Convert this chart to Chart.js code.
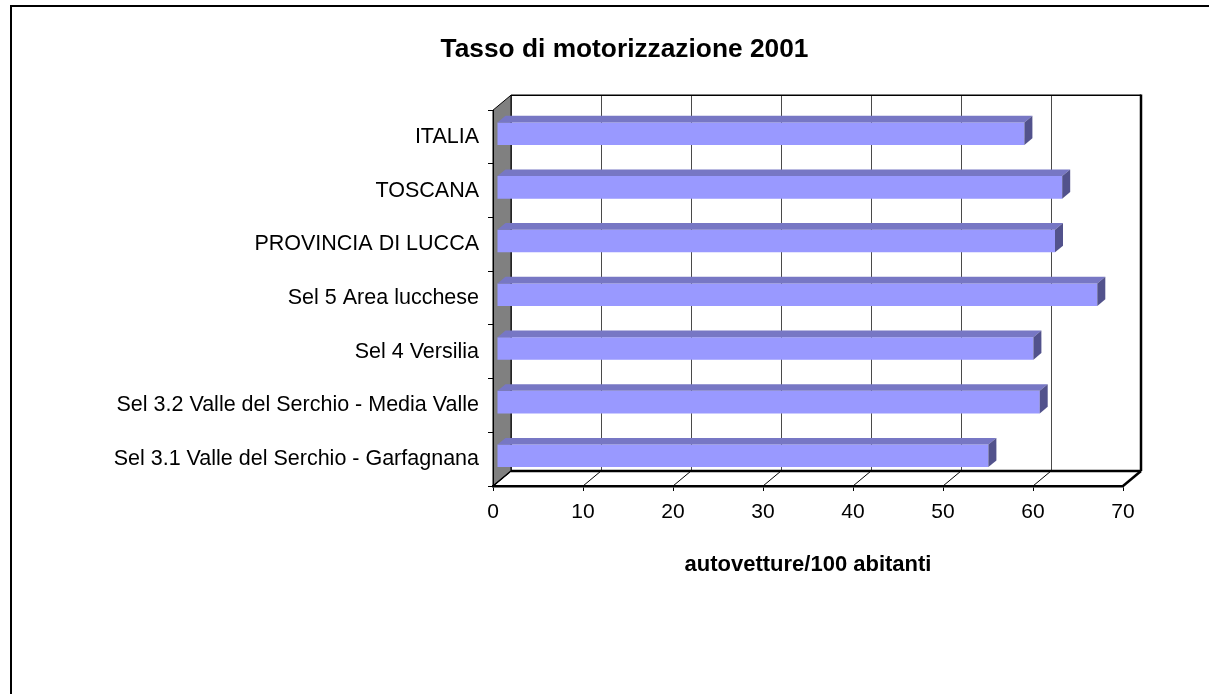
<!DOCTYPE html>
<html><head><meta charset="utf-8">
<script src="https://cdn.jsdelivr.net/npm/chart.js@4.4.0/dist/chart.umd.min.js"></script>
<style>html,body{margin:0;padding:0;background:#fff}#wrap{width:1209px;height:694px;position:relative}</style>
</head><body><div id="wrap"><canvas id="c"></canvas></div>
<script>
const categories = ['ITALIA','TOSCANA','PROVINCIA DI LUCCA','Sel 5 Area lucchese','Sel 4 Versilia','Sel 3.2 Valle del Serchio - Media Valle','Sel 3.1 Valle del Serchio - Garfagnana'];
const values = [58.6, 62.8, 62.0, 66.7, 59.6, 60.3, 54.6];
const xTicks = [0, 10, 20, 30, 40, 50, 60, 70];
const titleText = 'Tasso di motorizzazione 2001';
const xTitle = 'autovetture/100 abitanti';

const DX = 18, DY = -15;          // depth of the 3D floor
const BAR_OFF = 4 / 18, BAR_DEPTH = 8 / 18;
const PAD_LEFT = 40, CHART_LEFT = 493, CHART_RIGHT_GAP = 86, CHART_BOTTOM = 486;

Chart.defaults.font.family = "'Liberation Sans', Arial, sans-serif";

function line(ctx, x1, y1, x2, y2) { ctx.beginPath(); ctx.moveTo(x1, y1); ctx.lineTo(x2, y2); ctx.stroke(); }
function poly(ctx, pts, fill, stroke, lw) {
  ctx.beginPath(); ctx.moveTo(pts[0][0], pts[0][1]);
  for (let i = 1; i < pts.length; i++) ctx.lineTo(pts[i][0], pts[i][1]);
  ctx.closePath();
  if (fill) { ctx.fillStyle = fill; ctx.fill(); }
  if (stroke) { ctx.strokeStyle = stroke; ctx.lineWidth = lw || 1; ctx.stroke(); }
}

const depthPlugin = {
  id: 'depth3d',
  beforeDraw(chart) {
    const { ctx, chartArea: a } = chart;
    const x = chart.scales.x;
    ctx.save();
    // outer frame
    ctx.fillStyle = '#000';
    ctx.fillRect(10, 5, chart.width - 10, 2);
    ctx.fillRect(10, 5, 2, chart.height - 5);
    // back wall
    ctx.fillStyle = '#fff';
    ctx.fillRect(a.left + DX, a.top + DY, a.right - a.left, a.bottom - a.top);
    // floor
    poly(ctx, [[a.left, a.bottom], [a.right, a.bottom], [a.right + DX, a.bottom + DY], [a.left + DX, a.bottom + DY]], '#fff');
    // gridlines on back wall + floor diagonals
    ctx.strokeStyle = '#4a4a4a'; ctx.lineWidth = 1;
    xTicks.forEach(v => {
      const px = Math.round(x.getPixelForValue(v) + DX) + 0.5;
      line(ctx, px, a.top + DY, px, a.bottom + DY);
    });
    ctx.strokeStyle = '#000';
    xTicks.forEach(v => {
      const px = x.getPixelForValue(v);
      line(ctx, px, a.bottom, px + DX, a.bottom + DY);
    });
    // left wall
    poly(ctx, [[a.left, a.top], [a.left + DX, a.top + DY], [a.left + DX, a.bottom + DY], [a.left, a.bottom]], '#808080', '#000', 1);
    // back wall outline
    ctx.strokeStyle = '#000';
    ctx.lineWidth = 1.5;
    line(ctx, a.left + DX, a.top + DY, a.right + DX, a.top + DY);
    ctx.lineWidth = 2.5;
    line(ctx, a.right + DX, a.top + DY - 0.7, a.right + DX, a.bottom + DY);
    // floor edges
    line(ctx, a.left + DX, a.bottom + DY, a.right + DX, a.bottom + DY);
    line(ctx, a.right, a.bottom, a.right + DX, a.bottom + DY);
    ctx.lineWidth = 1.5;
    line(ctx, a.left, a.bottom, a.left + DX, a.bottom + DY);
    ctx.restore();
  },
  beforeDatasetsDraw(chart) {
    chart.ctx.save();
    chart.ctx.translate(DX * BAR_OFF, DY * BAR_OFF);
  },
  afterDatasetsDraw(chart) {
    const ctx = chart.ctx;
    const bx = DX * BAR_DEPTH, by = DY * BAR_DEPTH;
    chart.getDatasetMeta(0).data.forEach(el => {
      const p = el.getProps(['x', 'y', 'base', 'height'], true);
      const t = p.y - p.height / 2, b = p.y + p.height / 2;
      poly(ctx, [[p.base, t], [p.x, t], [p.x + bx, t + by], [p.base + bx, t + by]], '#7777C4');
      poly(ctx, [[p.x, t], [p.x + bx, t + by], [p.x + bx, b + by], [p.x, b]], '#52528C');
    });
    ctx.restore();
  }
};

new Chart(document.getElementById('c'), {
  type: 'bar',
  data: {
    labels: categories,
    datasets: [{ data: values, backgroundColor: '#9999FF', borderWidth: 0, barPercentage: 0.42, categoryPercentage: 1 }]
  },
  options: {
    indexAxis: 'y',
    responsive: true,
    maintainAspectRatio: false,
    animation: false,
    layout: { padding: { left: PAD_LEFT, right: 0, top: 0, bottom: 0 } },
    plugins: {
      legend: { display: false },
      tooltip: { enabled: false },
      title: {
        display: true, text: titleText, color: '#000',
        font: { size: 26.3, weight: 'bold' },
        padding: { top: 34, bottom: 44.6 }
      }
    },
    scales: {
      x: {
        type: 'linear', min: 0, max: 70, position: 'bottom',
        afterBuildTicks(s) { s.ticks = xTicks.map(v => ({ value: v })); },
        grid: { drawOnChartArea: false, drawTicks: true, tickLength: 5, color: '#000', lineWidth: 1 },
        border: { display: true, color: '#000', width: 2.5 },
        ticks: { color: '#000', font: { size: 21 }, padding: 9, maxRotation: 0, autoSkip: false },
        title: { display: true, text: xTitle, color: '#000', font: { size: 22, weight: 'bold' }, padding: { top: 0, bottom: 116 } },
        afterFit(s) { s.height = s.chart.height - CHART_BOTTOM; }
      },
      y: {
        grid: { drawOnChartArea: false, drawTicks: true, tickLength: 5, color: '#000', offset: true },
        border: { display: true, color: '#000', width: 1 },
        ticks: { color: '#000', font: { size: 21.5 }, padding: 9, autoSkip: false },
        afterFit(s) { s.width = CHART_LEFT - PAD_LEFT; }
      },
      yRightSpace: {
        type: 'category', position: 'right', display: true,
        grid: { display: false, drawTicks: false },
        border: { display: false },
        ticks: { display: false },
        afterFit(s) { s.width = CHART_RIGHT_GAP; }
      }
    }
  },
  plugins: [depthPlugin]
});
</script>
</body></html>
